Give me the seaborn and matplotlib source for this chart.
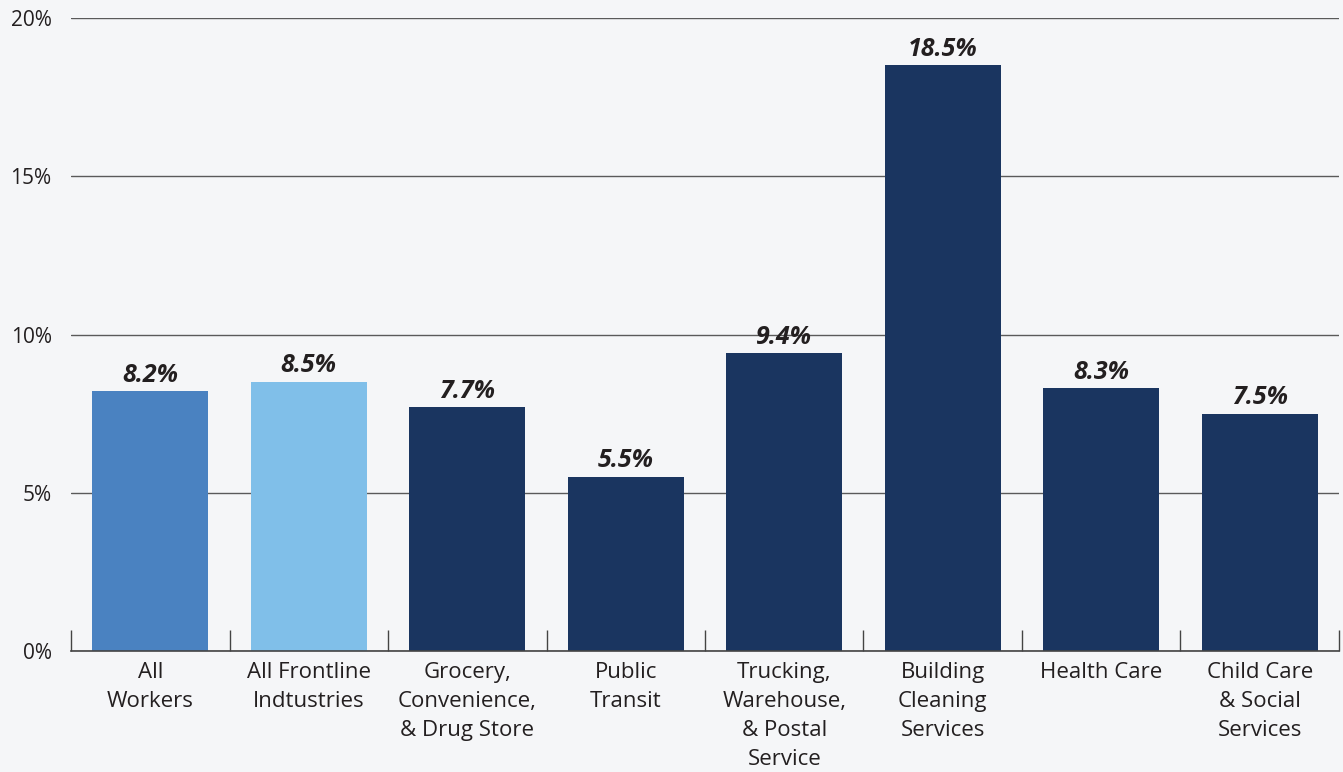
import matplotlib
matplotlib.use("Agg")
import matplotlib.pyplot as plt
import seaborn as sns
import pandas as pd
from matplotlib.ticker import FixedLocator

categories = [
    "All\nWorkers",
    "All Frontline\nIndtustries",
    "Grocery,\nConvenience,\n& Drug Store",
    "Public\nTransit",
    "Trucking,\nWarehouse,\n& Postal\nService",
    "Building\nCleaning\nServices",
    "Health Care",
    "Child Care\n& Social\nServices",
]
values = [8.2, 8.5, 7.7, 5.5, 9.4, 18.5, 8.3, 7.5]
bar_colors = ["#4a82c1", "#80bfe9", "#1a3560", "#1a3560", "#1a3560",
              "#1a3560", "#1a3560", "#1a3560"]
y_ticks = [0, 5, 10, 15, 20]
y_tick_labels = ["0%", "5%", "10%", "15%", "20%"]

sns.set_style("white")
plt.rcParams["font.family"] = ["Open Sans", "DejaVu Sans"]

bg = "#f5f6f8"
fig = plt.figure(figsize=(13.43, 7.72), dpi=100, facecolor=bg)
ax = fig.add_axes([0.0529, 0.1567, 0.9441, 0.82])
ax.set_facecolor(bg)

df = pd.DataFrame({"category": categories, "value": values})
sns.barplot(data=df, x="category", y="value", hue="category",
            palette=bar_colors, legend=False, width=0.73,
            saturation=1, linewidth=0, ax=ax, zorder=3)

ax.set_xlim(-0.5, len(categories) - 0.5)
ax.set_ylim(0, 20)
ax.set_yticks(y_ticks)
ax.set_yticklabels(y_tick_labels, fontsize=15, color="#231f20")
ax.grid(axis="y", color="#5a5a5a", linewidth=1.0, zorder=0)
ax.grid(axis="x", visible=False)

ax.set_xlabel("")
ax.set_ylabel("")
for lbl in ax.get_xticklabels():
    lbl.set_linespacing(1.5)
    lbl.set_fontsize(16)
    lbl.set_color("#231f20")
ax.tick_params(axis="x", which="major", length=0, pad=8)
ax.tick_params(axis="y", length=0, pad=14)

# Category separators as inward minor ticks on the baseline
ax.xaxis.set_minor_locator(FixedLocator([i - 0.5 for i in range(len(categories) + 1)]))
ax.tick_params(axis="x", which="minor", bottom=True, direction="in",
               length=15, width=1.0, color="#444444")

for side in ["top", "right", "left"]:
    ax.spines[side].set_visible(False)
ax.spines["bottom"].set_color("#444444")
ax.spines["bottom"].set_linewidth(1.2)
ax.spines["bottom"].set_zorder(4)

for i, v in enumerate(values):
    ax.text(i, v + 0.12, f"{v:.1f}%", ha="center", va="bottom",
            fontsize=18, fontweight="bold", fontstyle="italic",
            color="#231f20", zorder=5)

fig.savefig("out.png", dpi=100, facecolor=bg)
